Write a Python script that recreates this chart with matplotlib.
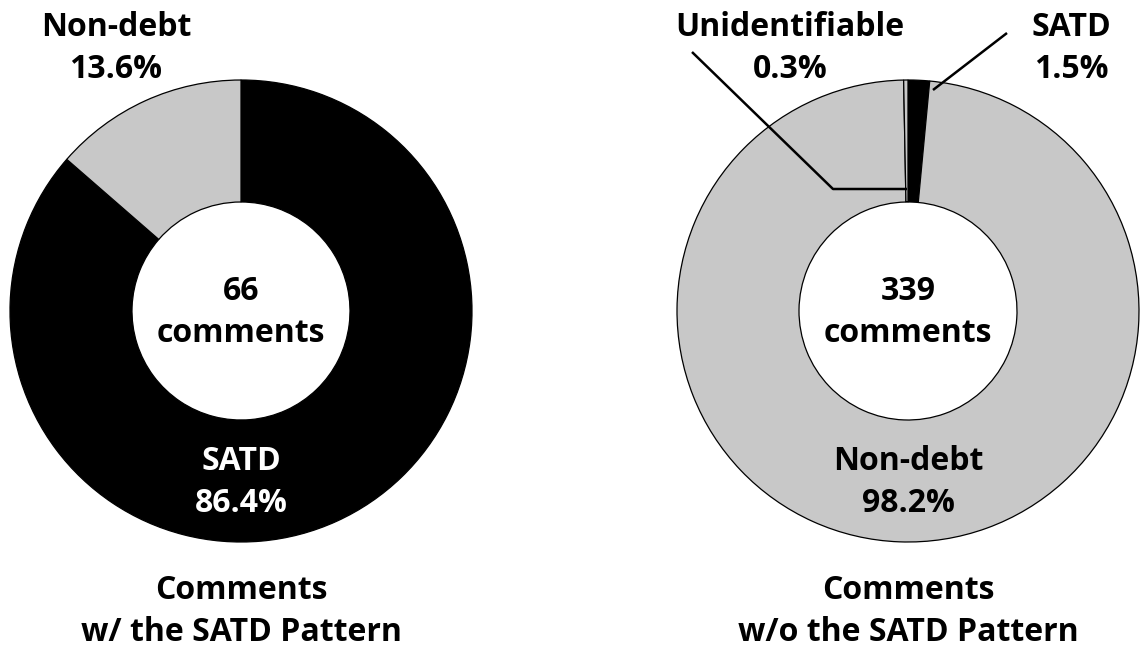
import numpy as np
import matplotlib.pyplot as plt

plt.rcParams['font.family'] = ['Open Sans', 'DejaVu Sans']
plt.rcParams['font.weight'] = 'bold'

# comment classification shares (%)
with_labels = ["SATD", "Non-debt"]
with_share = [86.4, 13.6]
with_total = 66

without_labels = ["SATD", "Non-debt", "Unidentifiable"]
without_share = [1.5, 98.2, 0.3]
without_total = 339

BLACK = "#000000"
GRAY = "#c8c8c8"

fig = plt.figure(figsize=(11.44, 6.5), dpi=100)
ax = fig.add_axes([0, 0, 1, 1])

R = 231
W = 122
FS = 23
LS = 1.36
wp = dict(width=W, edgecolor="black", linewidth=0.9)

c1 = (241, 339)
c2 = (908, 339)

ax.pie(with_share, colors=[BLACK, GRAY], startangle=90, counterclock=False,
       radius=R, center=c1, wedgeprops=wp, frame=True)
ax.pie(without_share, colors=[BLACK, GRAY, GRAY], startangle=90, counterclock=False,
       radius=R, center=c2, wedgeprops=wp, frame=True)
ax.set_xlim(0, 1144)
ax.set_ylim(0, 650)
ax.set_aspect("equal")
ax.axis("off")


def txt(x, y, s, color="black"):
    # y is the baseline of the last line
    ax.text(x, y, s, ha="center", va="baseline", fontsize=FS, fontweight="bold",
            color=color, linespacing=LS)


# left donut
txt(116, 572, f"{with_labels[1]}\n{with_share[1]}%")
txt(241, 138, f"{with_labels[0]}\n{with_share[0]}%", color="white")
txt(241, 308, f"{with_total}\ncomments")
txt(241, 9, "Comments\nw/ the SATD Pattern")

# right donut
txt(790, 572, f"{without_labels[2]}\n{without_share[2]}%")
txt(1071, 572, f"{without_labels[0]}\n{without_share[0]}%")
txt(908, 138, f"{without_labels[1]}\n{without_share[1]}%")
txt(908, 308, f"{without_total}\ncomments")
txt(908, 9, "Comments\nw/o the SATD Pattern")

# leader lines
ax.plot([692, 833, 907], [598, 461, 461], color="black", lw=1.8, solid_capstyle="butt")
ax.plot([1007, 933], [617, 560], color="black", lw=1.8, solid_capstyle="butt")

fig.savefig("out.png", dpi=100)
